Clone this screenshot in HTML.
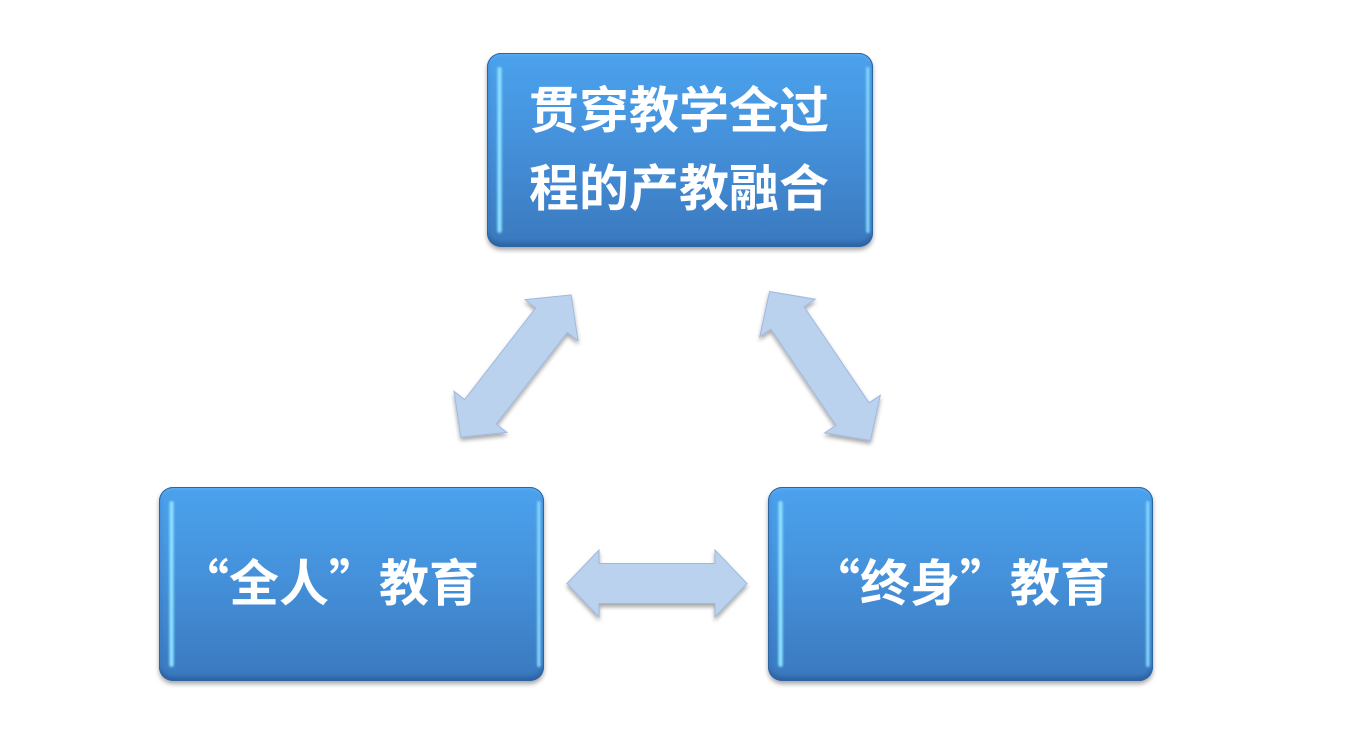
<!DOCTYPE html>
<html>
<head>
<meta charset="utf-8">
<style>
  html, body { margin:0; padding:0; background:#fff; }
  body { width:1350px; height:742px; position:relative; overflow:hidden;
         font-family:"Liberation Sans","Noto Sans CJK SC","WenQuanYi Zen Hei",sans-serif; }
  .box { position:absolute; border-radius:14px;
         background:linear-gradient(180deg,#4ba2ed 0%,#4591db 45%,#3a79be 100%);
         box-shadow: 0 3px 5px rgba(0,0,0,0.35), inset 0 0 0 1px #2d64a2, inset 0 -4px 5px rgba(20,50,100,0.35), inset 0 2px 3px rgba(120,190,255,0.5);
  }
  .hl { position:absolute; top:14px; bottom:14px; width:5px; border-radius:3px;
        background:linear-gradient(90deg,#5cbff8,#a4ecff,#62c0f5); filter:blur(1px); }
  .hl.l { left:10px; }
  .hl.r { right:3px; width:4px; background:linear-gradient(90deg,#62c0f6,#9fe6ff,#4a9ee6); }
  .t { position:absolute; color:#fff; font-weight:bold; font-size:50px; line-height:50px;
       white-space:nowrap; font-family:"Noto Sans CJK SC","WenQuanYi Zen Hei",sans-serif; }
</style>
</head>
<body>

<div class="box" style="left:487px;top:53px;width:386px;height:194px;">
  <div class="hl l"></div><div class="hl r"></div>
</div>
<div class="box" style="left:159px;top:487px;width:385px;height:194px;">
  <div class="hl l"></div><div class="hl r"></div>
</div>
<div class="box" style="left:768px;top:487px;width:385px;height:194px;">
  <div class="hl l"></div><div class="hl r"></div>
</div>

<div class="t" style="left:529px;top:82px;">贯穿教学全过</div>
<div class="t" style="left:529px;top:160px;">程的产教融合</div>
<div class="t" style="left:179px;top:555px;">“全人”教育</div>
<div class="t" style="left:810px;top:555px;">“终身”教育</div>

<svg width="1350" height="742" style="position:absolute;left:0;top:0;" xmlns="http://www.w3.org/2000/svg">
  <defs>
    <filter id="sh" x="-30%" y="-30%" width="160%" height="160%">
      <feGaussianBlur in="SourceAlpha" stdDeviation="2"/>
      <feOffset dx="0" dy="3" result="o"/>
      <feComponentTransfer><feFuncA type="linear" slope="0.35"/></feComponentTransfer>
      <feMerge><feMergeNode/><feMergeNode in="SourceGraphic"/></feMerge>
    </filter>
  </defs>
  <g fill="#bbd2ef" stroke="#9fb9de" stroke-width="1" filter="url(#sh)">
    <polygon transform="translate(657,583.5)" points="-90,0 -58,-33.5 -58,-20 58,-20 58,-33.5 90,0 58,33.5 58,20 -58,20 -58,33.5"/>
    <polygon transform="translate(516,366) rotate(-52.2)" points="-90,0 -58,-33.5 -58,-20 58,-20 58,-33.5 90,0 58,33.5 58,20 -58,20 -58,33.5"/>
    <polygon transform="translate(820,366) rotate(55.9)" points="-90,0 -58,-33.5 -58,-20 58,-20 58,-33.5 90,0 58,33.5 58,20 -58,20 -58,33.5"/>
  </g>
</svg>

</body>
</html>
